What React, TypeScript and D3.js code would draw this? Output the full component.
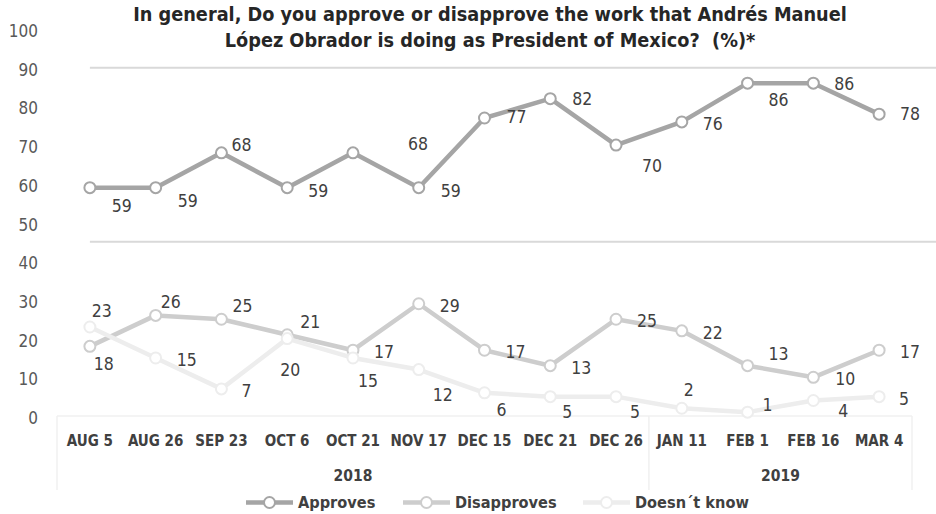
import React from "react";
import * as d3 from "d3";

const categories = ["AUG 5", "AUG 26", "SEP 23", "OCT 6", "OCT 21", "NOV 17", "DEC 15", "DEC 21", "DEC 26", "JAN 11", "FEB 1", "FEB 16", "MAR 4"];
const years = [
  { label: "2018", from: 0, to: 8 },
  { label: "2019", from: 9, to: 12 },
];
const approves = [59, 59, 68, 59, 68, 59, 77, 82, 70, 76, 86, 86, 78];
const disapproves = [18, 26, 25, 21, 17, 29, 17, 13, 25, 22, 13, 10, 17];
const doesntKnow = [23, 15, 7, 20, 15, 12, 6, 5, 5, 2, 1, 4, 5];
const yTicks = [0, 10, 20, 30, 40, 50, 60, 70, 80, 90, 100];
const gridValues = [90, 45];
const titleLines = [
  "In general, Do you approve or disapprove the work that Andrés Manuel",
  "López Obrador is doing as President of Mexico?  (%)*",
];

// label offsets (layout, relative to each point)
const approvesLabelOffsets: [number, number][] = [[32, 18], [32, 13], [20, -8], [31, 3], [65, -9], [32, 3], [32, -1], [32, 0], [36, 21], [31, 2], [31, 17], [31, 1], [31, 0]];
const disapprovesLabelOffsets: [number, number][] = [[14, 18], [15, -13], [21, -13], [23, -13], [31, 2], [31, 2], [31, 2], [31, 2], [31, 2], [31, 2], [31, -12], [32, 2], [31, 2]];
const doesntKnowLabelOffsets: [number, number][] = [[12, -16], [31, 2], [25, 2], [3, 31], [15, 23], [24, 25], [17, 17], [17, 15], [19, 15], [7, -18], [20, -7], [30, 10], [25, 2]];

const series = [
  { name: "Approves", values: approves, color: "#a5a5a5", offsets: approvesLabelOffsets },
  { name: "Disapproves", values: disapproves, color: "#cdcdcd", offsets: disapprovesLabelOffsets },
  { name: "Doesn´t know", values: doesntKnow, color: "#ededed", offsets: doesntKnowLabelOffsets },
];

const FONT = "'Liberation Sans Narrow', 'DejaVu Sans Condensed', 'Roboto Condensed', sans-serif";
const W = 936;
const H = 514;

export default function App() {
  const x = d3.scaleBand<string>().domain(categories).range([57, 912]).paddingInner(0).paddingOuter(0);
  const y = d3.scaleLinear().domain([0, 100]).range([416, 29]);
  const cx = (c: string) => (x(c) as number) + x.bandwidth() / 2;
  const line = d3
    .line<number>()
    .x((_, i) => cx(categories[i]))
    .y((v) => y(v));

  const legendItems = [
    { s: series[0], x0: 246 },
    { s: series[1], x0: 403 },
    { s: series[2], x0: 583 },
  ];

  return (
    <svg width={W} height={H} style={{ display: "block", position: "absolute", left: 0, top: 0 }} fontFamily={FONT}>
      <rect width={W} height={H} fill="#ffffff" />
      {/* title */}
      {titleLines.map((t, i) => (
        <text key={i} x={490} y={21 + i * 26} textAnchor="middle" fontSize={19.7} fontWeight="bold" fill="#262626" style={{ whiteSpace: "pre" }}>
          {t}
        </text>
      ))}
      {/* y tick labels */}
      {yTicks.map((v) => (
        <text key={v} x={38} y={y(v) + 2} textAnchor="end" dominantBaseline="central" fontSize={17} fill="#595959">
          {v}
        </text>
      ))}
      {/* gridlines */}
      {gridValues.map((v) => (
        <line key={v} x1={cx(categories[0])} x2={W} y1={y(v)} y2={y(v)} stroke="#d9d9d9" strokeWidth={2} />
      ))}
      {/* baseline and category separators */}
      <line x1={x(categories[0])} x2={(x(categories[12]) as number) + x.bandwidth()} y1={y(0)} y2={y(0)} stroke="#f0f0f0" strokeWidth={1.5} />
      {[0, 9, 13].map((i) => {
        const xx = i < 13 ? (x(categories[i]) as number) : (x(categories[12]) as number) + x.bandwidth();
        return <line key={i} x1={xx} x2={xx} y1={y(0)} y2={490} stroke="#f0f0f0" strokeWidth={1.5} />;
      })}
      {/* category labels */}
      {categories.map((c) => (
        <text key={c} x={cx(c)} y={446} textAnchor="middle" fontSize={15} fontWeight="bold" fill="#404040">
          {c}
        </text>
      ))}
      {years.map((yr) => {
        const a = x(categories[yr.from]) as number;
        const b = (x(categories[yr.to]) as number) + x.bandwidth();
        return (
          <text key={yr.label} x={(a + b) / 2} y={481} textAnchor="middle" fontSize={15.5} fontWeight="bold" fill="#404040">
            {yr.label}
          </text>
        );
      })}
      {/* series */}
      {series.map((s) => (
        <g key={s.name}>
          <path d={line(s.values) || ""} fill="none" stroke={s.color} strokeWidth={4.5} strokeLinejoin="round" />
          {s.values.map((v, i) => (
            <circle key={i} cx={cx(categories[i])} cy={y(v)} r={5.5} fill="#ffffff" stroke={s.color} strokeWidth={2} />
          ))}
        </g>
      ))}
      {/* data labels */}
      {series.map((s) => (
        <g key={s.name + "-labels"}>
          {s.values.map((v, i) => (
            <text
              key={i}
              x={cx(categories[i]) + s.offsets[i][0]}
              y={y(v) + s.offsets[i][1]}
              textAnchor="middle"
              dominantBaseline="central"
              fontSize={17.5}
              fill="#404040"
            >
              {v}
            </text>
          ))}
        </g>
      ))}
      {/* legend */}
      {legendItems.map(({ s, x0 }) => (
        <g key={s.name + "-legend"}>
          <line x1={x0} x2={x0 + 47} y1={502.5} y2={502.5} stroke={s.color} strokeWidth={4.5} />
          <circle cx={x0 + 23.5} cy={502.5} r={5.5} fill="#ffffff" stroke={s.color} strokeWidth={2} />
          <text x={x0 + 52} y={502.5} dominantBaseline="central" fontSize={16.2} fontWeight="bold" fill="#404040">
            {s.name}
          </text>
        </g>
      ))}
    </svg>
  );
}
